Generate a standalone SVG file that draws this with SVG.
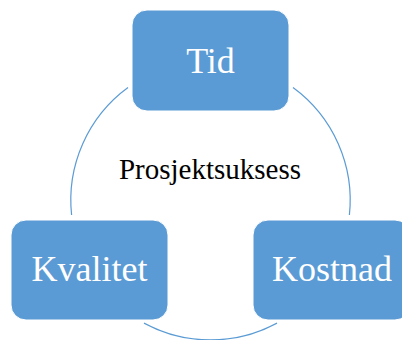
<svg xmlns="http://www.w3.org/2000/svg" width="402" height="340" viewBox="0 0 402 340">
<style>
.box{fill:#5b9bd5;stroke:#ffffff;stroke-width:1}
.lbl{font-family:"Liberation Serif","Times New Roman",serif;font-size:36px;fill:#ffffff;text-anchor:middle}
.arc{fill:none;stroke:#5b9bd5;stroke-width:1.2}
.center{font-family:"Liberation Serif","Times New Roman",serif;font-size:29px;fill:#000000;text-anchor:middle}
</style>
<rect width="402" height="340" fill="#ffffff"/>
<g id="connectors">
<path class="arc" d="M293,87.5 A139.7,139.7 0 0 1 349.4,215"/>
<path class="arc" d="M277,323.1 A139.7,139.7 0 0 1 144,323.1"/>
<path class="arc" d="M71.6,215 A139.7,139.7 0 0 1 128,87.5"/>
</g>
<g id="center-label">
<text class="center" x="210" y="179">Prosjektsuksess</text>
</g>
<g id="tid">
<rect class="box" x="132" y="10" width="157" height="101" rx="15"/>
<text class="lbl" x="210.5" y="73">Tid</text>
</g>
<g id="kvalitet">
<rect class="box" x="11" y="220" width="157" height="100" rx="15"/>
<text class="lbl" x="89.5" y="281">Kvalitet</text>
</g>
<g id="kostnad">
<rect class="box" x="253" y="220" width="157" height="100" rx="15"/>
<text class="lbl" x="332" y="281">Kostnad</text>
</g>
</svg>
